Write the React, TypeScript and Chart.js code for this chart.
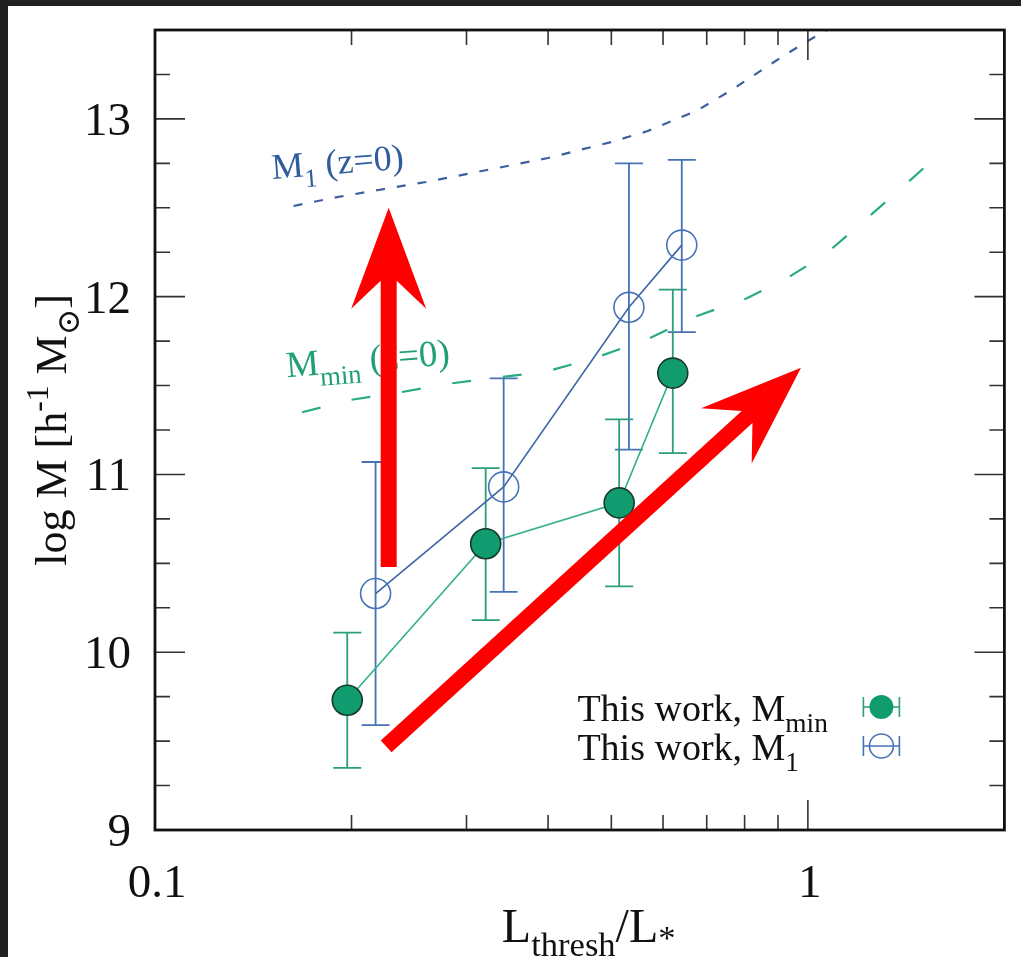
import React, { useEffect, useRef } from "react";
import { Chart, registerables } from "chart.js";

Chart.register(...registerables);

// ---------------- data ----------------
// This work, M_min (filled green points)
const mminX = [0.197, 0.321, 0.514, 0.621];
const mminY = [9.73, 10.61, 10.84, 11.57];
const mminLow = [9.35, 10.18, 10.37, 11.12];
const mminHigh = [10.11, 11.035, 11.31, 12.04];

// This work, M_1 (open blue points)
const m1X = [0.2177, 0.342, 0.532, 0.641];
const m1Y = [10.33, 10.93, 11.94, 12.29];
const m1Low = [9.59, 10.34, 11.14, 11.8];
const m1High = [11.07, 11.54, 12.75, 12.77];

// M_1 (z=0) model curve (short dashes)
const m1ModelX = [0.163, 0.19, 0.22, 0.26, 0.31, 0.4, 0.5, 0.567, 0.675, 0.77, 0.87, 0.99, 1.07];
const m1ModelY = [12.51, 12.56, 12.6, 12.645, 12.7, 12.78, 12.87, 12.93, 13.045, 13.17, 13.3, 13.43, 13.5];

// M_min (z=0) model curve (long dashes)
const mminModelX = [0.168, 0.2, 0.236, 0.281, 0.335, 0.399, 0.476, 0.567, 0.675, 0.805, 0.935, 1.065, 1.196, 1.361, 1.566];
const mminModelY = [11.35, 11.42, 11.46, 11.51, 11.545, 11.58, 11.66, 11.76, 11.89, 11.99, 12.11, 12.24, 12.4, 12.58, 12.78];

// axis ticks
const xMajorTicks = [0.1, 1];
const xTickLabels = ["0.1", "1"];
const xMinorTicks = [0.2, 0.3, 0.4, 0.5, 0.6, 0.7, 0.8, 0.9, 2];
const yMajorTicks = [9, 10, 11, 12, 13];
const yTickLabels = ["9", "10", "11", "12", "13"];
const yMinorTicks = [9.25, 9.5, 9.75, 10.25, 10.5, 10.75, 11.25, 11.5, 11.75, 12.25, 12.5, 12.75, 13.25];

// red annotation arrows (data coordinates)
const arrowFromX = [0.228, 0.226];
const arrowFromY = [10.48, 9.47];
const arrowToX = [0.228, 0.976];
const arrowToY = [12.5, 11.6];

// ---------------- styling ----------------
const SERIF = '"Liberation Serif", "Times New Roman", "DejaVu Serif", serif';
const GREEN_FILL = "#119c70";
const GREEN_LINE = "#34b08b";
const GREEN_ERR = "#2a9f7a";
const BLUE = "#4672b6";
const BLUE_LINE = "#3f66a8";
const M1_DASH = "#3d5f9c";
const MMIN_DASH = "#2aab84";

type Seg = { t: string; s?: "sub" | "sup"; dy?: number };

function segFont(size: number, s?: string) {
  return `${s ? size * 0.72 : size}px ${SERIF}`;
}
function richWidth(ctx: CanvasRenderingContext2D, segs: Seg[], size: number) {
  let w = 0;
  for (const g of segs) {
    ctx.font = segFont(size, g.s);
    w += ctx.measureText(g.t).width;
  }
  return w;
}
function drawRich(
  ctx: CanvasRenderingContext2D,
  segs: Seg[],
  x: number,
  y: number,
  size: number,
  color: string,
  align: "left" | "center" | "right" = "left"
) {
  const w = richWidth(ctx, segs, size);
  let cx = align === "center" ? x - w / 2 : align === "right" ? x - w : x;
  ctx.fillStyle = color;
  ctx.textBaseline = "alphabetic";
  ctx.textAlign = "left";
  for (const g of segs) {
    ctx.font = segFont(size, g.s);
    const dy =
      g.dy !== undefined ? g.dy * size : g.s === "sub" ? size * 0.3 : g.s === "sup" ? -size * 0.4 : 0;
    ctx.fillText(g.t, cx, y + dy);
    cx += ctx.measureText(g.t).width;
  }
}

function drawErrBars(
  ctx: CanvasRenderingContext2D,
  xs: number[],
  lo: number[],
  hi: number[],
  xs_: any,
  ys_: any,
  color: string
) {
  ctx.save();
  ctx.strokeStyle = color;
  ctx.lineWidth = 1.8;
  xs.forEach((x, i) => {
    const px = xs_.getPixelForValue(x);
    const y1 = ys_.getPixelForValue(lo[i]);
    const y2 = ys_.getPixelForValue(hi[i]);
    ctx.beginPath();
    ctx.moveTo(px, y1);
    ctx.lineTo(px, y2);
    ctx.moveTo(px - 14, y1);
    ctx.lineTo(px + 14, y1);
    ctx.moveTo(px - 14, y2);
    ctx.lineTo(px + 14, y2);
    ctx.stroke();
  });
  ctx.restore();
}

function drawArrow(ctx: CanvasRenderingContext2D, x1: number, y1: number, x2: number, y2: number) {
  const dx = x2 - x1;
  const dy = y2 - y1;
  const L = Math.hypot(dx, dy);
  const ux = dx / L;
  const uy = dy / L;
  const nx = -uy;
  const ny = ux;
  const headLen = 101;
  const notch = 73;
  const hw = 37.5;
  const sw = 8;
  const pts = [
    [x2, y2],
    [x2 - ux * headLen + nx * hw, y2 - uy * headLen + ny * hw],
    [x2 - ux * notch + nx * sw, y2 - uy * notch + ny * sw],
    [x1 + nx * sw, y1 + ny * sw],
    [x1 - nx * sw, y1 - ny * sw],
    [x2 - ux * notch - nx * sw, y2 - uy * notch - ny * sw],
    [x2 - ux * headLen - nx * hw, y2 - uy * headLen - ny * hw],
  ];
  ctx.save();
  ctx.fillStyle = "#ff0000";
  ctx.beginPath();
  pts.forEach((p, i) => (i === 0 ? ctx.moveTo(p[0], p[1]) : ctx.lineTo(p[0], p[1])));
  ctx.closePath();
  ctx.fill();
  ctx.restore();
}

const overlayPlugin = {
  id: "overlay",
  beforeDatasetsDraw(chart: any) {
    const ctx: CanvasRenderingContext2D = chart.ctx;
    const xs = chart.scales.x;
    const ys = chart.scales.y;
    drawErrBars(ctx, m1X, m1Low, m1High, xs, ys, BLUE);
    drawErrBars(ctx, mminX, mminLow, mminHigh, xs, ys, GREEN_ERR);
  },
  afterDatasetsDraw(chart: any) {
    const ctx: CanvasRenderingContext2D = chart.ctx;
    const xs = chart.scales.x;
    const ys = chart.scales.y;
    const { left, right, top, bottom } = chart.chartArea;

    // ticks (inward, all four sides)
    ctx.save();
    ctx.strokeStyle = "#333";
    ctx.lineWidth = 1.6;
    ctx.beginPath();
    const yTick = (v: number, len: number) => {
      const p = ys.getPixelForValue(v);
      ctx.moveTo(left, p);
      ctx.lineTo(left + len, p);
      ctx.moveTo(right, p);
      ctx.lineTo(right - len, p);
    };
    const xTick = (v: number, len: number) => {
      const p = xs.getPixelForValue(v);
      ctx.moveTo(p, bottom);
      ctx.lineTo(p, bottom - len);
      ctx.moveTo(p, top);
      ctx.lineTo(p, top + len);
    };
    yMajorTicks.forEach((v) => yTick(v, 30));
    yMinorTicks.forEach((v) => yTick(v, 15));
    xMajorTicks.forEach((v) => xTick(v, 30));
    xMinorTicks.forEach((v) => xTick(v, 15));
    ctx.stroke();

    // frame
    ctx.strokeStyle = "#111";
    ctx.lineWidth = 2.8;
    ctx.strokeRect(left, top, right - left, bottom - top);
    ctx.restore();

    // tick labels
    ctx.save();
    ctx.fillStyle = "#111";
    ctx.font = `47px ${SERIF}`;
    ctx.textBaseline = "alphabetic";
    ctx.textAlign = "right";
    yMajorTicks.forEach((v, i) => {
      ctx.fillText(yTickLabels[i], left - 24, ys.getPixelForValue(v) + 16);
    });
    ctx.textAlign = "center";
    xMajorTicks.forEach((v, i) => {
      ctx.fillText(xTickLabels[i], xs.getPixelForValue(v) + 2, bottom + 67);
    });
    ctx.restore();

    // axis titles
    drawRich(
      ctx,
      [{ t: "L" }, { t: "thresh", s: "sub" }, { t: "/L" }, { t: "*", s: "sub", dy: 0.15 }],
      (left + right) / 2 + 9,
      bottom + 112,
      48,
      "#111",
      "center"
    );
    ctx.save();
    ctx.translate(left - 89, (top + bottom) / 2);
    ctx.rotate(-Math.PI / 2);
    drawRich(
      ctx,
      [{ t: "log M [h" }, { t: "-1", s: "sup" }, { t: " M" }, { t: "⊙", s: "sub" }, { t: "]" }],
      0,
      0,
      44,
      "#111",
      "center"
    );
    ctx.restore();

    // curve labels
    const lab1x = xs.getPixelForValue(m1ModelX[0]) - 21;
    const lab1y = ys.getPixelForValue(m1ModelY[0]) - 27;
    ctx.save();
    ctx.translate(lab1x, lab1y);
    ctx.rotate((-4.5 * Math.PI) / 180);
    drawRich(ctx, [{ t: "M" }, { t: "1", s: "sub" }, { t: " (z=0)" }], 0, 0, 36, "#2f5c9c");
    ctx.restore();

    const lab2x = xs.getPixelForValue(mminModelX[0]) - 15;
    const lab2y = ys.getPixelForValue(mminModelY[0]) - 35;
    ctx.save();
    ctx.translate(lab2x, lab2y);
    ctx.rotate((-4.5 * Math.PI) / 180);
    drawRich(ctx, [{ t: "M" }, { t: "min", s: "sub" }, { t: " (z=0)" }], 0, 0, 37, "#1f9f78");
    ctx.restore();

    // legend
    const legX = right - 427;
    const legY1 = bottom - 109;
    const legY2 = bottom - 70;
    drawRich(ctx, [{ t: "This work, M" }, { t: "min", s: "sub" }], legX, legY1, 38, "#111");
    drawRich(ctx, [{ t: "This work, M" }, { t: "1", s: "sub" }], legX, legY2, 38, "#111");
    const symX = right - 123;
    const symRow = (cy: number, color: string, filled: boolean) => {
      ctx.save();
      ctx.strokeStyle = color;
      ctx.lineWidth = 1.6;
      ctx.beginPath();
      ctx.moveTo(symX - 18, cy);
      ctx.lineTo(symX + 18, cy);
      ctx.moveTo(symX - 18, cy - 10);
      ctx.lineTo(symX - 18, cy + 10);
      ctx.moveTo(symX + 18, cy - 10);
      ctx.lineTo(symX + 18, cy + 10);
      ctx.stroke();
      ctx.beginPath();
      ctx.arc(symX, cy, 12, 0, Math.PI * 2);
      if (filled) {
        ctx.fillStyle = GREEN_FILL;
        ctx.fill();
      } else {
        ctx.stroke();
      }
      ctx.restore();
    };
    symRow(legY1 - 14, GREEN_ERR, true);
    symRow(legY2 - 14, BLUE, false);

    // red annotation arrows
    arrowFromX.forEach((fx, i) => {
      drawArrow(
        ctx,
        xs.getPixelForValue(fx),
        ys.getPixelForValue(arrowFromY[i]),
        xs.getPixelForValue(arrowToX[i]),
        ys.getPixelForValue(arrowToY[i])
      );
    });
  },
};

export default function App() {
  const ref = useRef<HTMLCanvasElement | null>(null);

  useEffect(() => {
    if (!ref.current) return;
    const pts = (xs: number[], ys: number[]) => xs.map((x, i) => ({ x, y: ys[i] }));
    const chart = new Chart(ref.current, {
      type: "scatter",
      data: {
        datasets: [
          {
            label: "M1 (z=0)",
            data: pts(m1ModelX, m1ModelY),
            showLine: true,
            borderColor: M1_DASH,
            borderWidth: 2.2,
            borderDash: [9, 12],
            pointRadius: 0,
            tension: 0,
            order: 4,
          },
          {
            label: "Mmin (z=0)",
            data: pts(mminModelX, mminModelY),
            showLine: true,
            borderColor: MMIN_DASH,
            borderWidth: 2.2,
            borderDash: [19, 32],
            pointRadius: 0,
            tension: 0,
            order: 3,
          },
          {
            label: "This work, M1",
            data: pts(m1X, m1Y),
            showLine: true,
            borderColor: BLUE_LINE,
            borderWidth: 1.6,
            pointRadius: 15,
            pointBackgroundColor: "rgba(0,0,0,0)",
            pointBorderColor: BLUE,
            pointBorderWidth: 1.6,
            order: 2,
          },
          {
            label: "This work, Mmin",
            data: pts(mminX, mminY),
            showLine: true,
            borderColor: GREEN_LINE,
            borderWidth: 1.6,
            pointRadius: 15,
            pointBackgroundColor: GREEN_FILL,
            pointBorderColor: "#17382b",
            pointBorderWidth: 1.6,
            order: 1,
          },
        ],
      },
      options: {
        animation: false,
        responsive: false,
        maintainAspectRatio: false,
        events: [],
        layout: { padding: { left: 147, right: 14, top: 24, bottom: 127 } },
        scales: {
          x: { type: "logarithmic", min: 0.1, max: 2, display: false },
          y: { type: "linear", min: 9, max: 13.5, display: false },
        },
        plugins: {
          legend: { display: false },
          tooltip: { enabled: false },
        },
      },
      plugins: [overlayPlugin],
    } as any);
    return () => chart.destroy();
  }, []);

  return (
    <div
      style={{
        position: "absolute",
        left: 0,
        top: 0,
        width: 1021,
        height: 957,
        background: "#212121",
        overflow: "hidden",
      }}
    >
      <canvas
        ref={ref}
        width={1013}
        height={951}
        style={{ position: "absolute", left: 8, top: 6, display: "block", background: "#ffffff" }}
      />
    </div>
  );
}
